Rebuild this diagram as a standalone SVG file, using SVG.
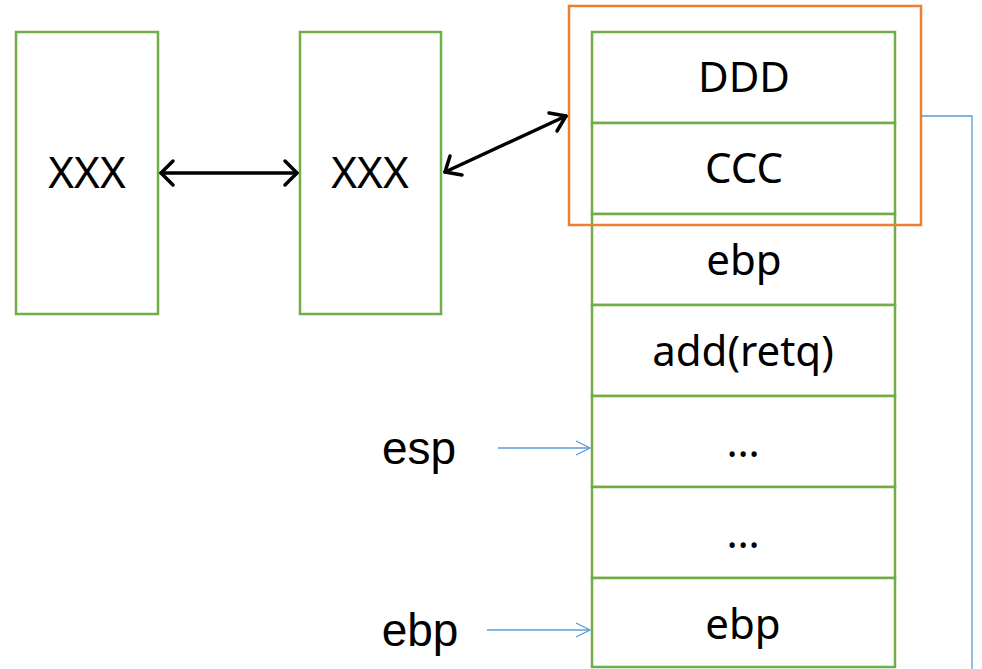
<svg xmlns="http://www.w3.org/2000/svg" width="982" height="669" viewBox="0 0 982 669">
  <style>
    .box { fill: #ffffff; stroke: #70AD47; stroke-width: 2.5; }
    .frame { fill: none; stroke: #ED7D31; stroke-width: 2.5; }
    .lbl { font-family: "Noto Sans", "Noto Sans CJK SC", sans-serif; font-size: 42px; fill: #000000; text-anchor: middle; }
    .big { font-size: 44px; }
    .ptr { font-family: "Liberation Sans", Arial, sans-serif; font-size: 46px; fill: #000000; text-anchor: middle; }
    .link { fill: none; stroke: #000000; stroke-width: 3.5; stroke-linecap: round; stroke-linejoin: round; }
    .blue { fill: none; stroke: #5B9BD5; stroke-width: 1.3; }
  </style>
  <defs>
    <marker id="headBlue" viewBox="0 0 14 14" refX="14" refY="7" markerWidth="14" markerHeight="14" markerUnits="userSpaceOnUse" orient="auto" overflow="visible">
      <path d="M 0 0 L 14 7 L 0 14" fill="none" stroke="#5B9BD5" stroke-width="1.3"/>
    </marker>
  </defs>
  <rect x="0" y="0" width="982" height="669" fill="#ffffff"/>

  <!-- left frames -->
  <g id="frame1">
    <rect class="box" x="16" y="32" width="142" height="282"/>
    <text class="lbl big" x="87" y="188">XXX</text>
  </g>
  <g id="frame2">
    <rect class="box" x="300" y="32" width="141" height="282"/>
    <text class="lbl big" x="370" y="188">XXX</text>
  </g>

  <!-- stack cells -->
  <g id="cell-ddd">
    <rect class="box" x="592" y="32" width="303" height="91"/>
    <text class="lbl" x="744" y="92">DDD</text>
  </g>
  <g id="cell-ccc">
    <rect class="box" x="592" y="123" width="303" height="91"/>
    <text class="lbl" x="744" y="183">CCC</text>
  </g>
  <g id="cell-ebp-top">
    <rect class="box" x="592" y="214" width="303" height="91"/>
    <text class="lbl" x="744" y="275">ebp</text>
  </g>
  <g id="cell-ret">
    <rect class="box" x="592" y="305" width="303" height="91"/>
    <text class="lbl" x="743" y="366">add(retq)</text>
  </g>
  <g id="cell-dots1">
    <rect class="box" x="592" y="396" width="303" height="91"/>
    <text class="lbl" x="743" y="457">…</text>
  </g>
  <g id="cell-dots2">
    <rect class="box" x="592" y="487" width="303" height="91"/>
    <text class="lbl" x="743" y="548">…</text>
  </g>
  <g id="cell-ebp-bottom">
    <rect class="box" x="592" y="578" width="303" height="89"/>
    <text class="lbl" x="743" y="639">ebp</text>
  </g>

  <!-- highlighted frame around the top cells -->
  <g id="current-frame">
    <rect class="frame" x="569" y="6" width="352" height="219"/>
  </g>

  <!-- register labels -->
  <g id="reg-esp">
    <text class="ptr" x="419" y="464">esp</text>
  </g>
  <g id="reg-ebp">
    <text class="ptr" x="420" y="646">ebp</text>
  </g>

  <!-- connectors -->
  <g id="connectors">
    <g class="link">
      <line x1="161" y1="173" x2="297" y2="173"/>
      <polyline points="173,161 161,173 173,185"/>
      <polyline points="285,161 297,173 285,185"/>
      <line x1="445" y1="172" x2="566" y2="116"/>
      <polyline points="450,156 445,172 462,175"/>
      <polyline points="549,113 566,116 557,131"/>
    </g>
    <polyline class="blue" points="921,116 972,116 972,669"/>
    <line class="blue" x1="498" y1="448" x2="590" y2="448" marker-end="url(#headBlue)"/>
    <line class="blue" x1="487" y1="630" x2="590" y2="630" marker-end="url(#headBlue)"/>
  </g>
</svg>
